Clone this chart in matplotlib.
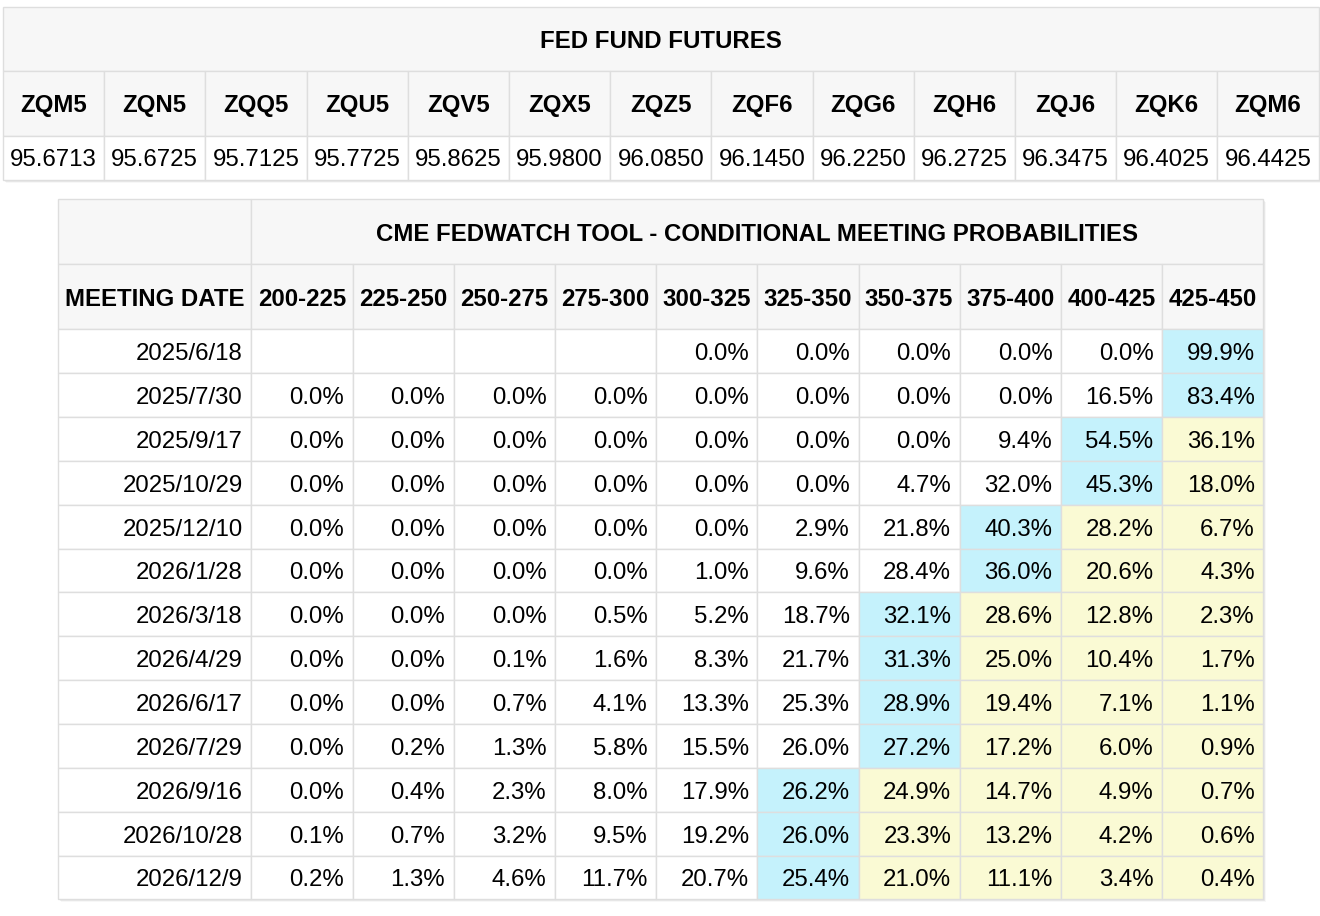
import numpy as np
import matplotlib.pyplot as plt
from matplotlib.patches import Rectangle

plt.rcParams['font.family'] = ['Liberation Sans', 'DejaVu Sans']

# Fed fund futures
contracts = ["ZQM5", "ZQN5", "ZQQ5", "ZQU5", "ZQV5", "ZQX5", "ZQZ5",
             "ZQF6", "ZQG6", "ZQH6", "ZQJ6", "ZQK6", "ZQM6"]
prices = [95.6713, 95.6725, 95.7125, 95.7725, 95.8625, 95.9800, 96.0850,
          96.1450, 96.2250, 96.2725, 96.3475, 96.4025, 96.4425]

# CME FedWatch conditional meeting probabilities (%)
ranges = ["200-225", "225-250", "250-275", "275-300", "300-325",
          "325-350", "350-375", "375-400", "400-425", "425-450"]
meeting_dates = ["2025/6/18", "2025/7/30", "2025/9/17", "2025/10/29",
                 "2025/12/10", "2026/1/28", "2026/3/18", "2026/4/29",
                 "2026/6/17", "2026/7/29", "2026/9/16", "2026/10/28",
                 "2026/12/9"]
probs = [
    [None, None, None, None, 0.0, 0.0, 0.0, 0.0, 0.0, 99.9],
    [0.0, 0.0, 0.0, 0.0, 0.0, 0.0, 0.0, 0.0, 16.5, 83.4],
    [0.0, 0.0, 0.0, 0.0, 0.0, 0.0, 0.0, 9.4, 54.5, 36.1],
    [0.0, 0.0, 0.0, 0.0, 0.0, 0.0, 4.7, 32.0, 45.3, 18.0],
    [0.0, 0.0, 0.0, 0.0, 0.0, 2.9, 21.8, 40.3, 28.2, 6.7],
    [0.0, 0.0, 0.0, 0.0, 1.0, 9.6, 28.4, 36.0, 20.6, 4.3],
    [0.0, 0.0, 0.0, 0.5, 5.2, 18.7, 32.1, 28.6, 12.8, 2.3],
    [0.0, 0.0, 0.1, 1.6, 8.3, 21.7, 31.3, 25.0, 10.4, 1.7],
    [0.0, 0.0, 0.7, 4.1, 13.3, 25.3, 28.9, 19.4, 7.1, 1.1],
    [0.0, 0.2, 1.3, 5.8, 15.5, 26.0, 27.2, 17.2, 6.0, 0.9],
    [0.0, 0.4, 2.3, 8.0, 17.9, 26.2, 24.9, 14.7, 4.9, 0.7],
    [0.1, 0.7, 3.2, 9.5, 19.2, 26.0, 23.3, 13.2, 4.2, 0.6],
    [0.2, 1.3, 4.6, 11.7, 20.7, 25.4, 21.0, 11.1, 3.4, 0.4],
]

HEAD_BG = "#f7f7f7"
GRID = "#dedede"
CYAN = "#c5f2fc"
YELLOW = "#fafad4"
FS = 17.3
DY_HEAD = 2.5   # small downward nudge so text sits like the original
DY_BODY = 3.0


def cell(ax, x, y, w, h, color):
    ax.add_patch(Rectangle((x, y), w, h, facecolor=color, edgecolor=GRID, lw=1.0))


def shadow(ax, x, y, w, h):
    for i, a in enumerate([0.10, 0.06, 0.03]):
        ax.add_patch(Rectangle((x + 1 + i, y + 1 + i), w, h, facecolor="#000000",
                               alpha=a, lw=0))
    ax.add_patch(Rectangle((x, y), w, h, facecolor="white", lw=0))


fig = plt.figure(figsize=(13.2, 9.16), dpi=100)
ax = fig.add_axes([0, 0, 1, 1])
ax.set_xlim(0, 1320)
ax.set_ylim(916, 0)
ax.axis("off")

# ---- top table ----
x0, y0 = 3, 7
cw = 101.2
rh = [63.5, 65.5, 44]
tw = cw * len(contracts)
shadow(ax, x0, y0, tw, sum(rh))
cell(ax, x0, y0, tw, rh[0], HEAD_BG)
ax.text(x0 + tw / 2, y0 + rh[0] / 2 + DY_HEAD, "FED FUND FUTURES", ha="center",
        va="center", fontsize=FS, fontweight="bold")
for i, (c, p) in enumerate(zip(contracts, prices)):
    x = x0 + i * cw
    cell(ax, x, y0 + rh[0], cw, rh[1], HEAD_BG)
    ax.text(x + cw / 2, y0 + rh[0] + rh[1] / 2 + DY_HEAD, c, ha="center",
            va="center", fontsize=FS, fontweight="bold")
    cell(ax, x, y0 + rh[0] + rh[1], cw, rh[2], "white")
    ax.text(x + cw / 2, y0 + rh[0] + rh[1] + rh[2] / 2 + DY_BODY - 1, f"{p:.4f}",
            ha="center", va="center", fontsize=FS)

# ---- bottom table ----
bx, by = 58.3, 199.3
dw = 193.0
pw = 101.2
th, hh, dh = 65.0, 65.0, 43.85
bw = dw + pw * len(ranges)
bh = th + hh + dh * len(meeting_dates)
shadow(ax, bx, by, bw, bh)
cell(ax, bx, by, dw, th, HEAD_BG)
cell(ax, bx + dw, by, pw * len(ranges), th, HEAD_BG)
ax.text(bx + dw + pw * len(ranges) / 2, by + th / 2 + DY_HEAD,
        "CME FEDWATCH TOOL - CONDITIONAL MEETING PROBABILITIES",
        ha="center", va="center", fontsize=FS, fontweight="bold")
cell(ax, bx, by + th, dw, hh, HEAD_BG)
ax.text(bx + dw / 2, by + th + hh / 2 + DY_HEAD, "MEETING DATE", ha="center",
        va="center", fontsize=FS, fontweight="bold")
for j, r in enumerate(ranges):
    x = bx + dw + j * pw
    cell(ax, x, by + th, pw, hh, HEAD_BG)
    ax.text(x + pw / 2, by + th + hh / 2 + DY_HEAD, r, ha="center", va="center",
            fontsize=FS, fontweight="bold")

for i, (d, row) in enumerate(zip(meeting_dates, probs)):
    y = by + th + hh + i * dh
    cell(ax, bx, y, dw, dh, "white")
    ax.text(bx + dw - 8.5, y + dh / 2 + DY_BODY, d, ha="right", va="center",
            fontsize=FS)
    vals = [v if v is not None else -1 for v in row]
    imax = int(np.argmax(vals))
    for j, v in enumerate(row):
        x = bx + dw + j * pw
        if j == imax:
            color = CYAN
        elif j > imax:
            color = YELLOW
        else:
            color = "white"
        cell(ax, x, y, pw, dh, color)
        if v is not None:
            ax.text(x + pw - 8.5, y + dh / 2 + DY_BODY, f"{v:.1f}%", ha="right",
                    va="center", fontsize=FS)

fig.savefig("out.png", dpi=100)
